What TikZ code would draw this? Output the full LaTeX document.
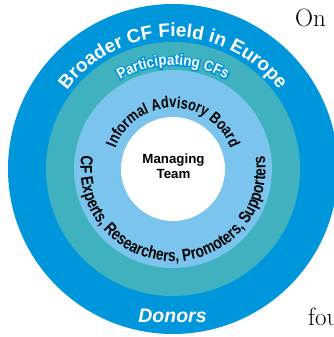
\documentclass[tikz,border=0pt]{standalone}
\usepackage{fontspec}
\newfontfamily\labelsans{Liberation Sans}
\newfontfamily\ringsans{Liberation Sans Bold}[FakeStretch=0.8]
\newfontfamily\partsans{Liberation Sans Bold}[FakeStretch=0.9]
\newfontfamily\partedge{Liberation Sans Bold}[FakeStretch=0.9, FakeBold=18]
\usetikzlibrary{decorations.text}

\definecolor{outerblue}{RGB}{0,150,219}
\definecolor{partteal}{RGB}{64,178,191}
\definecolor{boardblue}{RGB}{122,196,238}

\newcommand\fieldfont{\labelsans\bfseries\fontsize{19}{22}\selectfont}
\newcommand\partfont{\partsans\fontsize{15}{18}\selectfont}
\newcommand\edgefont{\partedge\fontsize{15}{18}\selectfont}
\newcommand\boardfont{\ringsans\fontsize{16}{19}\selectfont}
\newcommand\peoplefont{\ringsans\fontsize{17}{20}\selectfont}

\begin{document}
\begin{tikzpicture}[x=1pt, y=1pt,
    ringtext/.style={decorate, decoration={text along path, text align=center}},
    ]
    % Page frame
    \clip (-173,-168) rectangle (161,169);
    \coordinate (C) at (0,0);

    % Rings, outside in
    \fill[outerblue] (C) circle[radius=165];
    \fill[partteal] (C) circle[radius=127];
    \fill[boardblue] (C) circle[radius=99];
    \fill[white] (C) circle[radius=52];

    % Texts on the rings
    \path[ringtext, decoration={text color=white, text={|\fieldfont|Broader CF Field in Europe}}]
        (200:132) arc[start angle=200, end angle=-20, radius=132];
    \path[ringtext, decoration={text color=outerblue, text={|\edgefont|Participating CFs}}]
        (200:104) arc[start angle=200, end angle=-20, radius=104];
    \path[ringtext, decoration={text color=white, text={|\partfont|Participating CFs}}]
        (200:104) arc[start angle=200, end angle=-20, radius=104];
    \path[ringtext, decoration={text color=black, text={|\boardfont|Informal Advisory Board}}]
        (200:61) arc[start angle=200, end angle=-20, radius=61];
    \path[ringtext, decoration={text color=black, text={|\peoplefont|CF Experts, Researchers, Promoters, Supporters}}]
        (150:92.5) arc[start angle=150, end angle=390, radius=92.5];

    \node[align=center, font=\labelsans\bfseries\fontsize{13.3}{15.5}\selectfont] (team) at (0.5,3) {Managing\\Team};
    \node[text=white, font=\labelsans\bfseries\itshape\fontsize{19.5}{22}\selectfont] (donors) at (-0.5,-146.5) {Donors};

    % Page text round the figure
    \node[anchor=base west, inner sep=0pt, font=\fontsize{25}{30}\selectfont] (on) at (122,142) {On};
    \node[anchor=base west, inner sep=0pt, font=\fontsize{25}{30}\selectfont] (fou) at (135,-156) {fou};
\end{tikzpicture}
\end{document}
